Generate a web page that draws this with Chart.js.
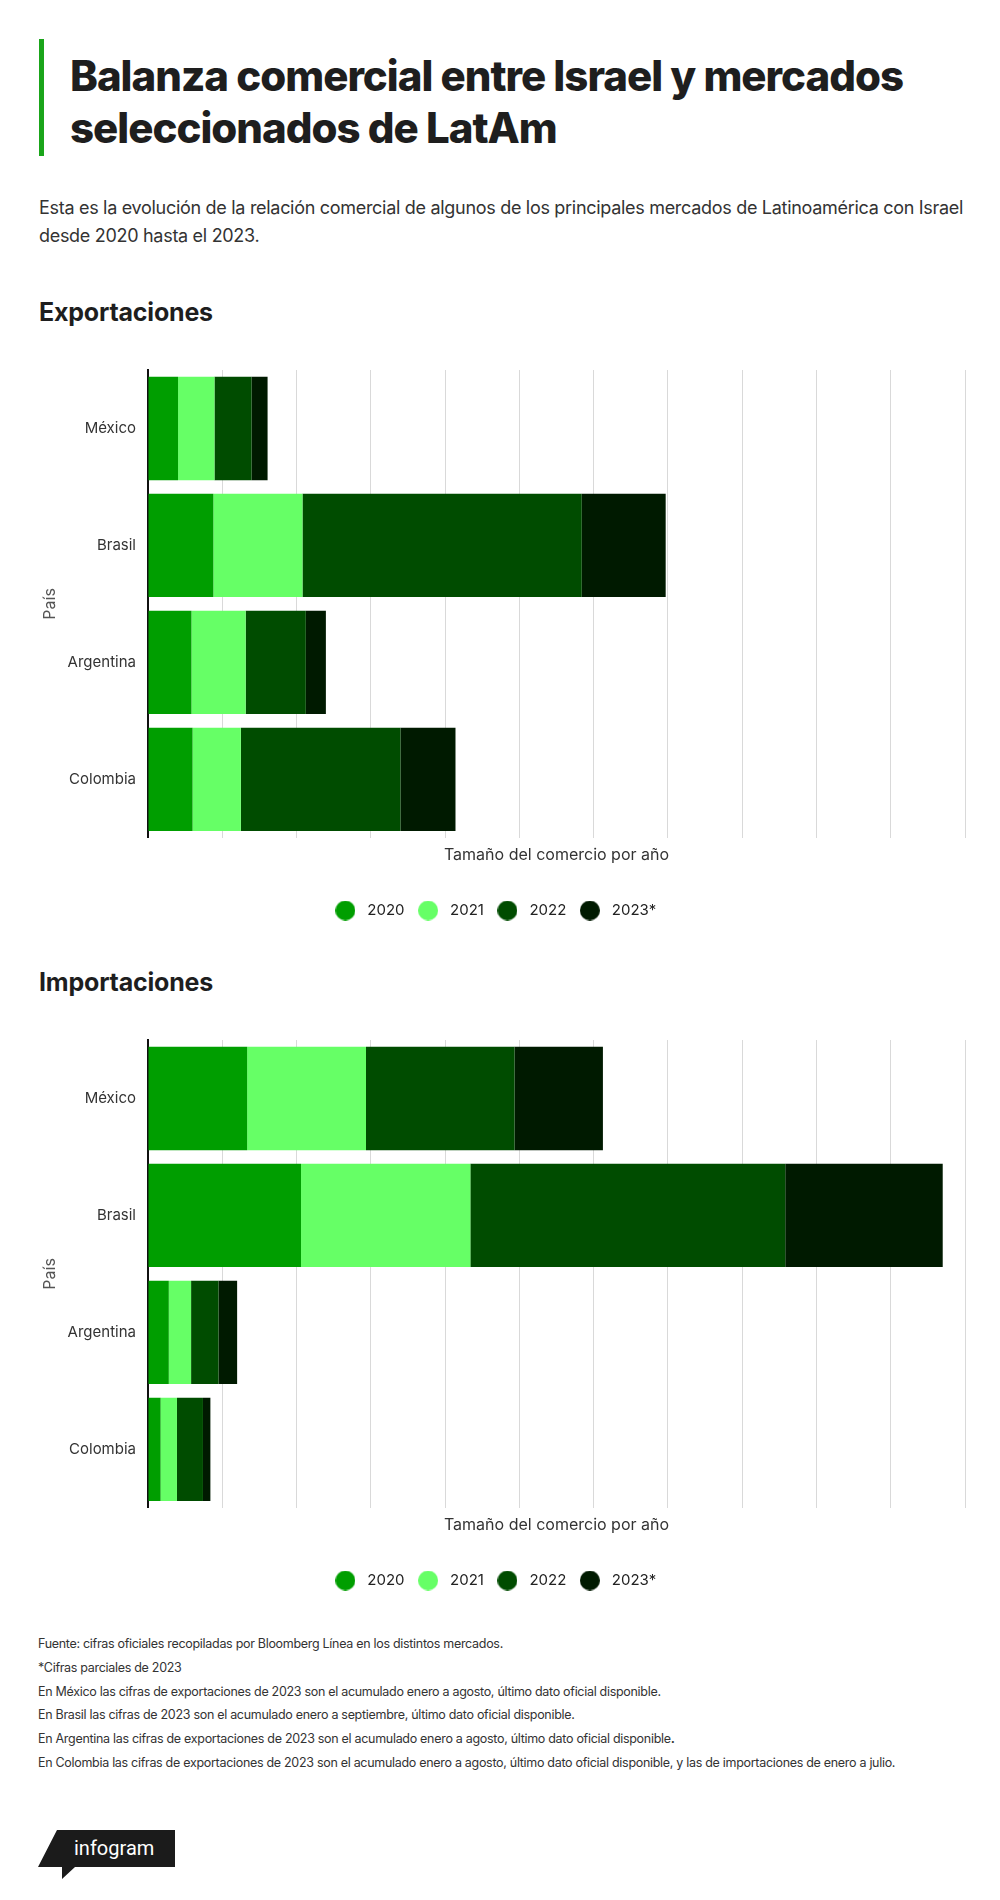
<!DOCTYPE html>
<html lang="es">
<head>
<meta charset="utf-8">
<title>Balanza comercial entre Israel y mercados seleccionados de LatAm</title>
<script src="https://cdn.jsdelivr.net/npm/chart.js@4.4.0/dist/chart.umd.min.js"></script>
<style>
  body { margin: 0; background: #fff; font-family: Inter, 'Noto Sans', sans-serif; color: #222; }
  #page { position: relative; width: 1000px; height: 1900px; overflow: hidden; }
  .barra { position: absolute; left: 39px; top: 39px; width: 5px; height: 117px; background: #1aa51a; }
  h1 { position: absolute; left: 70px; top: 50px; margin: 0; font-size: 42px; line-height: 52px;
       font-weight: 800; letter-spacing: -1px; color: #1e1e1e; }
  .sub { position: absolute; left: 39px; top: 194px; margin: 0; font-size: 18px; line-height: 28px;
         letter-spacing: -0.3px; color: #333; }
  h2 { position: absolute; left: 39px; margin: 0; font-size: 25px; line-height: 28px; font-weight: 700;
       letter-spacing: -0.2px; color: #1e1e1e; }
  .graf { position: absolute; left: 0; width: 1000px; height: 600px; }
  .notas { position: absolute; left: 38px; top: 1632px; margin: 0; font-size: 12.5px; line-height: 23.8px;
           letter-spacing: -0.3px; color: #333; }
  .logo { position: absolute; left: 38px; top: 1830px; }
</style>
</head>
<body>
<div id="page">
  <div class="barra"></div>
  <h1>Balanza comercial entre Israel y mercados<br>seleccionados de LatAm</h1>
  <p class="sub">Esta es la evolución de la relación comercial de algunos de los principales mercados de Latinoamérica con Israel<br>desde 2020 hasta el 2023.</p>

  <h2 style="top:298px">Exportaciones</h2>
  <div class="graf" style="top:340px"><canvas id="expo"></canvas></div>

  <h2 style="top:968px">Importaciones</h2>
  <div class="graf" style="top:1010px"><canvas id="impo"></canvas></div>

  <p class="notas">
    Fuente: cifras oficiales recopiladas por Bloomberg Línea en los distintos mercados.<br>
    *Cifras parciales de 2023<br>
    En México las cifras de exportaciones de 2023 son el acumulado enero a agosto, último dato oficial disponible.<br>
    En Brasil las cifras de 2023 son el acumulado enero a septiembre, último dato oficial disponible.<br>
    En Argentina las cifras de exportaciones de 2023 son el acumulado enero a agosto, último dato oficial disponible<b>.</b><br>
    En Colombia las cifras de exportaciones de 2023 son el acumulado enero a agosto, último dato oficial disponible, y las de importaciones de enero a julio.
  </p>

  <svg class="logo" width="140" height="52" viewBox="0 0 140 52">
    <polygon points="19,0 137,0 137,37 37,37 24,49 24,37 0,37" fill="#1b1b1b"/>
    <text x="36" y="25" fill="#fff" font-family="Roboto, sans-serif" font-size="20" font-weight="400">infogram</text>
  </svg>
</div>

<script>
// datos (unidades: un paso de la cuadrícula = 100)
const paises = ['México', 'Brasil', 'Argentina', 'Colombia'];
const anios = ['2020', '2021', '2022', '2023*'];
const colores = ['#009e00', '#66ff66', '#004c00', '#001a00'];

const exp2020 = [40.5, 88, 58.5, 60];
const exp2021 = [49, 120, 73, 65];
const exp2022 = [50, 376, 81, 215];
const exp2023 = [21.5, 113, 27, 74];

const imp2020 = [133.5, 206, 28, 17];
const imp2021 = [160, 228, 30, 22];
const imp2022 = [200, 424, 37, 35];
const imp2023 = [119, 212, 25, 10];

const ejeMax = 1100;
const ejePaso = 100;

Chart.defaults.font.family = "Inter, 'Noto Sans', sans-serif";
Chart.defaults.animation = false;

function circulo(color) {
  const c = document.createElement('canvas');
  c.width = 20; c.height = 20;
  const ctx = c.getContext('2d');
  ctx.fillStyle = color;
  ctx.beginPath();
  ctx.arc(10, 10, 10, 0, Math.PI * 2);
  ctx.fill();
  return c;
}
const puntos = colores.map(circulo);

function crearGrafico(id, series) {
  const ctx = document.getElementById(id);
  return new Chart(ctx, {
    type: 'bar',
    data: {
      labels: paises,
      datasets: series.map((data, i) => ({
        label: anios[i],
        data: data,
        backgroundColor: colores[i],
        borderWidth: 0,
        barPercentage: 1,
        categoryPercentage: 0.884
      }))
    },
    options: {
      indexAxis: 'y',
      responsive: true,
      maintainAspectRatio: false,
      layout: { padding: { top: 30, right: 35, bottom: 12, left: 22 } },
      plugins: {
        tooltip: { enabled: false },
        legend: {
          position: 'bottom',
          labels: {
            usePointStyle: true,
            pointStyleWidth: 29,
            boxHeight: 15,
            padding: 9,
            color: '#222',
            font: { size: 15 },
            generateLabels: (chart) => Chart.defaults.plugins.legend.labels.generateLabels(chart)
              .map(l => Object.assign(l, { pointStyle: puntos[l.datasetIndex] }))
          }
        }
      },
      scales: {
        x: {
          stacked: true,
          min: 0,
          max: ejeMax,
          ticks: { display: false, stepSize: ejePaso },
          grid: { color: '#d9d9d9', drawTicks: false },
          border: { display: false },
          title: {
            display: true,
            text: 'Tamaño del comercio por año',
            color: '#333',
            font: { size: 16 },
            padding: { top: 8, bottom: 29 }
          }
        },
        y: {
          stacked: true,
          grid: { display: false, drawTicks: false },
          border: { color: '#111', width: 2 },
          ticks: { color: '#333', font: { size: 15 }, padding: 12 },
          title: {
            display: true,
            text: 'País',
            color: '#555',
            font: { size: 16 },
            padding: { top: 18.5, bottom: 4 }
          },
          afterFit: (s) => { s.width = 126; }
        }
      }
    }
  });
}

crearGrafico('expo', [exp2020, exp2021, exp2022, exp2023]);
crearGrafico('impo', [imp2020, imp2021, imp2022, imp2023]);
</script>
</body>
</html>
